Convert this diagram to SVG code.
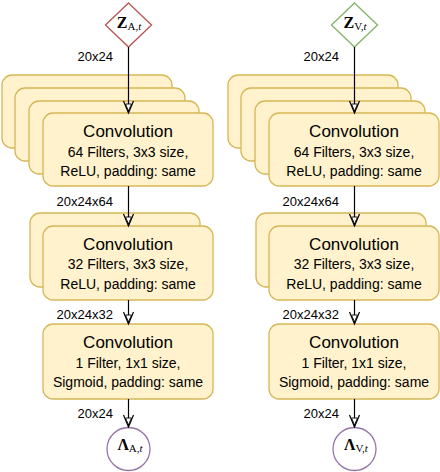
<svg xmlns="http://www.w3.org/2000/svg" width="440" height="472" viewBox="0 0 440 472">
<style>
.blk{fill:#fff2cc;stroke:#d6b656;stroke-width:1.3}
.t1{font-family:"Liberation Sans",Arial,sans-serif;font-size:17px;fill:#000;text-anchor:middle}
.t2{font-family:"Liberation Sans",Arial,sans-serif;font-size:14px;fill:#000;text-anchor:middle}
.lbl{font-family:"Liberation Sans",Arial,sans-serif;font-size:13px;fill:#000;text-anchor:end}
.m{font-family:"Liberation Serif","Times New Roman",serif;fill:#000;text-anchor:middle}
.mb{font-weight:bold;font-size:16px}
.ms{font-size:11px}
.edge{stroke:#000;stroke-width:1.2;fill:none;marker-end:url(#ah)}
</style>
<defs>
<marker id="ah" markerUnits="userSpaceOnUse" markerWidth="16" markerHeight="14" viewBox="-13 -7 16 14" refX="0" refY="0" orient="auto">
<path d="M-12,-5 L0,0 L-12,5" fill="none" stroke="#000" stroke-width="1.2"/>
<path d="M-9,-3 L-2,0 L-9,3 Z" fill="#fff" stroke="#000" stroke-width="0.9"/>
</marker>
<g id="stack4">
<rect class="blk" x="2" y="75" width="170" height="73" rx="10"/>
<rect class="blk" x="15" y="88" width="170" height="73" rx="10"/>
<rect class="blk" x="29" y="101" width="170" height="73" rx="10"/>
<rect class="blk" x="43" y="113" width="170" height="73" rx="10"/>
</g>
<g id="stack2">
<rect class="blk" x="30" y="213" width="170" height="74" rx="10"/>
<rect class="blk" x="43" y="226" width="170" height="74" rx="10"/>
</g>
</defs>

<g id="input-A">
<polygon points="128.5,3 151.5,25 128.5,47 105.5,25" fill="#fff" stroke="#b85450" stroke-width="1.3"/>
<text class="m" x="129" y="28"><tspan class="mb">Z</tspan><tspan class="ms" dy="2">A,</tspan><tspan class="ms" font-style="italic">t</tspan></text>
</g>
<g id="conv1-A">
<use href="#stack4"/>
<text class="t1" x="128" y="137">Convolution</text>
<text class="t2" x="128" y="157">64 Filters, 3x3 size,</text>
<text class="t2" x="128" y="176">ReLU, padding: same</text>
</g>
<g id="conv2-A">
<use href="#stack2"/>
<text class="t1" x="128" y="250">Convolution</text>
<text class="t2" x="128" y="269">32 Filters, 3x3 size,</text>
<text class="t2" x="128" y="289">ReLU, padding: same</text>
</g>
<g id="conv3-A">
<rect class="blk" x="43" y="324" width="170" height="75" rx="10"/>
<text class="t1" x="128" y="348">Convolution</text>
<text class="t2" x="128" y="368">1 Filter, 1x1 size,</text>
<text class="t2" x="128" y="387">Sigmoid, padding: same</text>
</g>
<g id="output-A">
<circle cx="128.5" cy="449" r="21.5" fill="#fff" stroke="#9673a6" stroke-width="1.3"/>
<text class="m" x="130" y="450"><tspan class="mb">Λ</tspan><tspan class="ms" dy="2">A,</tspan><tspan class="ms" font-style="italic">t</tspan></text>
</g>

<g id="input-V">
<polygon points="354.5,3 377.5,25 354.5,47 331.5,25" fill="#fff" stroke="#82b366" stroke-width="1.3"/>
<text class="m" x="355" y="28"><tspan class="mb">Z</tspan><tspan class="ms" dy="2">V,</tspan><tspan class="ms" font-style="italic">t</tspan></text>
</g>
<g id="conv1-V">
<use href="#stack4" x="226"/>
<text class="t1" x="354" y="137">Convolution</text>
<text class="t2" x="354" y="157">64 Filters, 3x3 size,</text>
<text class="t2" x="354" y="176">ReLU, padding: same</text>
</g>
<g id="conv2-V">
<use href="#stack2" x="226"/>
<text class="t1" x="354" y="250">Convolution</text>
<text class="t2" x="354" y="269">32 Filters, 3x3 size,</text>
<text class="t2" x="354" y="289">ReLU, padding: same</text>
</g>
<g id="conv3-V">
<rect class="blk" x="269" y="324" width="170" height="75" rx="10"/>
<text class="t1" x="354" y="348">Convolution</text>
<text class="t2" x="354" y="368">1 Filter, 1x1 size,</text>
<text class="t2" x="354" y="387">Sigmoid, padding: same</text>
</g>
<g id="output-V">
<circle cx="354.5" cy="449" r="21.5" fill="#fff" stroke="#9673a6" stroke-width="1.3"/>
<text class="m" x="356" y="450"><tspan class="mb">Λ</tspan><tspan class="ms" dy="2">V,</tspan><tspan class="ms" font-style="italic">t</tspan></text>
</g>

<g id="connectors">
<line class="edge" x1="128.5" y1="47" x2="128.5" y2="113"/>
<line class="edge" x1="128.5" y1="186" x2="128.5" y2="226"/>
<line class="edge" x1="128.5" y1="300" x2="128.5" y2="324"/>
<line class="edge" x1="128.5" y1="399" x2="128.5" y2="427"/>
<line class="edge" x1="354.5" y1="47" x2="354.5" y2="113"/>
<line class="edge" x1="354.5" y1="186" x2="354.5" y2="226"/>
<line class="edge" x1="354.5" y1="300" x2="354.5" y2="324"/>
<line class="edge" x1="354.5" y1="399" x2="354.5" y2="427"/>
<text class="lbl" x="113" y="61">20x24</text>
<text class="lbl" x="113" y="206">20x24x64</text>
<text class="lbl" x="113" y="319">20x24x32</text>
<text class="lbl" x="113" y="418">20x24</text>
<text class="lbl" x="339" y="61">20x24</text>
<text class="lbl" x="339" y="206">20x24x64</text>
<text class="lbl" x="339" y="319">20x24x32</text>
<text class="lbl" x="339" y="418">20x24</text>
</g>
</svg>
